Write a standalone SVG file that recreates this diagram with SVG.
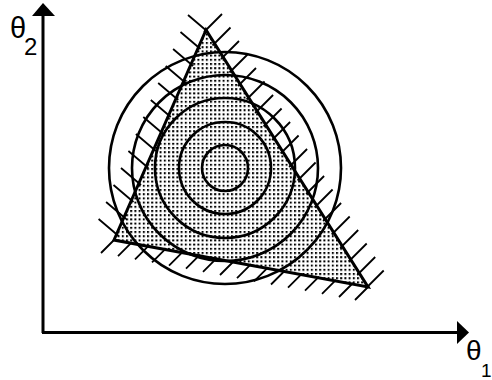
<svg xmlns="http://www.w3.org/2000/svg" width="492" height="380" viewBox="0 0 492 380">
<style>
.ax{stroke:#000;stroke-width:3;fill:none}
.circ{stroke:#000;stroke-width:2.6;fill:none}
.tri{stroke:#000;stroke-width:3;fill:url(#dots);stroke-linejoin:miter}
.hatch{stroke:#000;stroke-width:1.8;fill:none;stroke-linecap:butt}
.lbl{font-family:"Liberation Sans",Arial,sans-serif;fill:#000}
</style>
<defs>
<pattern id="dots" width="4.2" height="4.2" patternUnits="userSpaceOnUse">
<rect x="0" y="0" width="2" height="2" fill="#000"/>
</pattern>
</defs>
<rect width="492" height="380" fill="#fff"/>
<g id="region">
<polygon class="tri" points="206,30 114,240 368,287"/>
</g>
<g id="contours">
<circle class="circ" cx="225" cy="168" r="23"/>
<circle class="circ" cx="225" cy="168" r="46"/>
<circle class="circ" cx="225" cy="168" r="70"/>
<circle class="circ" cx="225" cy="168" r="93"/>
<circle class="circ" cx="225" cy="168" r="116"/>
</g>
<g id="hatching">
<path class="hatch" d="M208,32L188,15 M200.5,49L180.5,32 M193.1,66L173.1,49 M185.7,83L165.7,66 M178.2,100L158.2,83 M170.8,117L150.8,100 M163.3,134L143.3,117 M155.9,151L135.9,134 M148.4,168L128.4,151 M141,185L121,168 M133.5,202L113.5,185 M126.1,219L106.1,202 M118.6,236L98.6,219"/>
<path class="hatch" d="M204,32L222,14 M212.5,45.5L230.5,27.5 M221,59L239,41 M229.5,72.5L247.5,54.5 M238,86L256,68 M246.6,99.5L264.6,81.5 M255.1,113L273.1,95 M263.6,126.5L281.6,108.5 M272.1,140L290.1,122 M280.6,153.5L298.6,135.5 M289.1,167L307.1,149 M297.6,180.5L315.6,162.5 M306.1,194L324.1,176 M314.6,207.5L332.6,189.5 M323.1,221L341.1,203 M331.7,234.5L349.7,216.5 M340.2,248L358.2,230 M348.7,261.5L366.7,243.5 M357.2,275L375.2,257 M365.7,288.5L383.7,270.5"/>
<path class="hatch" d="M115,239L101,253 M132,242.1L118,256.1 M149,245.3L135,259.3 M166,248.4L152,262.4 M183,251.6L169,265.6 M200,254.7L186,268.7 M217,257.9L203,271.9 M234,261L220,275 M251,264.2L237,278.2 M268,267.3L254,281.3 M285,270.5L271,284.5 M302,273.6L288,287.6 M319,276.7L305,290.7 M336,279.9L322,293.9 M353,283L339,297 M369,286L355,300"/>
</g>
<g id="axes">
<path class="ax" d="M43,333V14 M42,332.5H458"/>
<polygon points="43,3 32,16 55,16" fill="#000"/>
<polygon points="469,332.5 457,321 457,344" fill="#000"/>
</g>
<g id="labels">
<text class="lbl" x="466" y="360" font-size="28">θ</text>
<text class="lbl" x="481" y="377" font-size="19">1</text>
<text class="lbl" x="10" y="38" font-size="29">θ</text>
<text class="lbl" x="24" y="55" font-size="24">2</text>
</g>
</svg>
